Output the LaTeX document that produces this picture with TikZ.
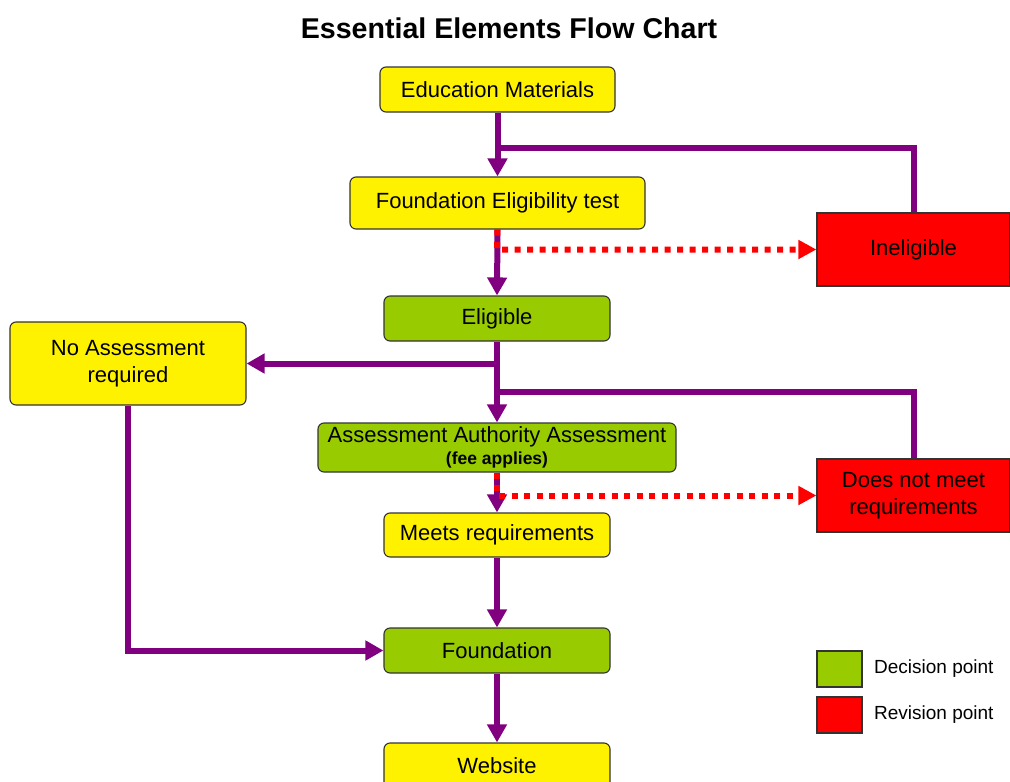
\documentclass[tikz,border=0pt]{standalone}
\usepackage{fontspec}
\setmainfont{Liberation Sans}
\usetikzlibrary{arrows.meta}
\definecolor{Purp}{HTML}{800080}
\definecolor{DecGreen}{HTML}{99CC00}
\definecolor{Edge}{HTML}{333333}
\begin{document}
\begin{tikzpicture}[x=1pt,y=-1pt,
 box/.style={draw=Edge, line width=1.1pt, rounded corners=6pt, inner sep=0pt, align=center,
   font=\fontsize{22}{26}\selectfont},
 yel/.style={box, fill=yellow},
 grn/.style={box, fill=DecGreen},
 redbox/.style={draw=Edge, line width=1.1pt, fill=red, inner sep=0pt, align=center,
   font=\fontsize{22}{26.5}\selectfont, minimum width=193pt, minimum height=73pt},
 flow/.style={draw=Purp, line width=6pt, -{Triangle[length=18pt,width=19pt]}},
 link/.style={draw=Purp, line width=6pt, line join=miter},
 fail/.style={draw=red, line width=6pt, dash pattern=on 6pt off 6.5pt, -{Triangle[length=18pt,width=18pt]}},
 legbox/.style={draw=Edge, line width=1.1pt, minimum width=45pt, minimum height=36pt, inner sep=0pt},
 legtext/.style={anchor=west, inner sep=0pt, font=\fontsize{19}{22}\selectfont}
]
\useasboundingbox (0,0) rectangle (1010,782);

\node (title) at (509,28) {\fontsize{28.6}{34}\selectfont\bfseries Essential Elements Flow Chart};

\node[yel, minimum width=235pt, minimum height=45pt] (edu) at (497.5,89.5) {Education Materials};
\node[yel, minimum width=295pt, minimum height=52pt] (fet) at (497.5,203) {Foundation Eligibility test};
\node[redbox] (inel) at (913.5,249.5) {Ineligible};
\node[grn, minimum width=226pt, minimum height=45pt] (elig) at (497,318.5) {Eligible};
\node[yel, minimum width=236pt, minimum height=83pt, font=\fontsize{22}{27}\selectfont] (noa) at (128,363.5) {No Assessment\\required};
\node[grn, minimum width=358pt, minimum height=49pt, font=\fontsize{22}{24}\selectfont] (aaa) at (497,447.5) {Assessment Authority Assessment\\[-2pt]{\fontsize{17.5}{20}\selectfont\bfseries (fee applies)}};
\node[redbox] (dnm) at (913.5,495.5) {Does not meet\\requirements};
\node[yel, minimum width=226pt, minimum height=44pt] (meets) at (497,535) {Meets requirements};
\node[grn, minimum width=226pt, minimum height=45pt] (found) at (497,650.5) {Foundation};
\node[yel, minimum width=226pt, minimum height=45pt] (web) at (497,765.5) {Website};

% legend
\node[legbox, fill=DecGreen] (legd) at (839.5,669) {};
\node[legtext] (legdt) at (874,669) {Decision point};
\node[legbox, fill=red] (legr) at (839.5,715) {};
\node[legtext] (legrt) at (874,715) {Revision point};

% junction coordinates
\coordinate (j1) at (497,148);
\coordinate (j2) at (497,363.5);
\coordinate (j3) at (497,392);
\coordinate (r1) at (497,249.5);
\coordinate (r2) at (497,495.5);
\coordinate (nb) at (128,650.5);

% purple connectors
\draw[flow] (edu.south) -- (fet.north);
\draw[link] (inel.north) |- (j1);
\draw[flow] (fet.south) -- (elig.north);
\draw[flow] (elig.south) -- (aaa.north);
\draw[flow] (j2) -- (noa.east);
\draw[link] (dnm.north) |- (j3);
\draw[flow] (aaa.south) -- (meets.north);
\draw[flow] (meets.south) -- (found.north);
\draw[flow] (noa.south) -- (nb) -- (found.west);
\draw[flow] (found.south) -- (web.north);

% red dotted revision connectors
\draw[fail] (fet.south) -- (r1) -- (inel.west);
\draw[fail] (aaa.south) -- (r2) -- (dnm.west);
\end{tikzpicture}
\end{document}
